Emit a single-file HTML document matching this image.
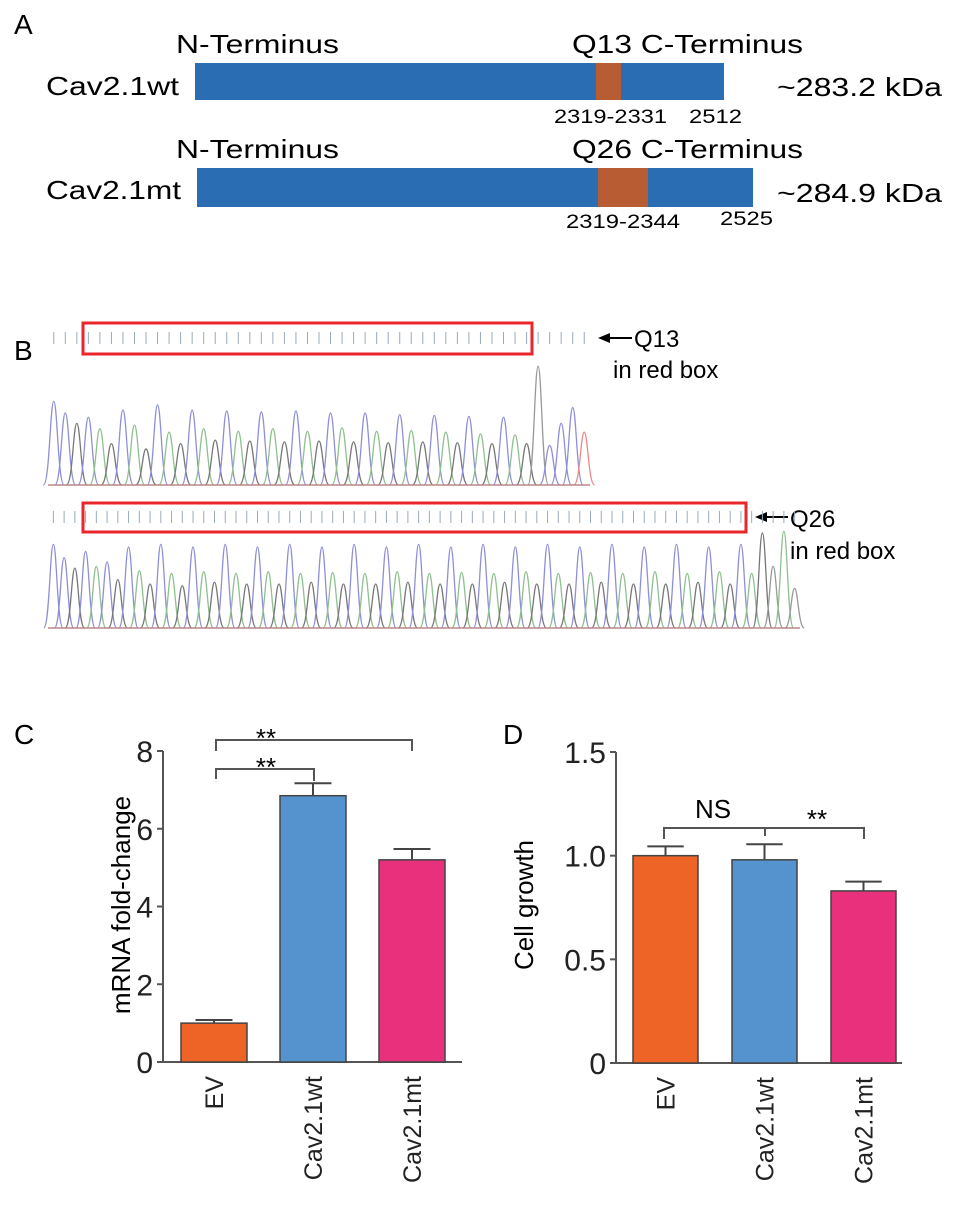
<!DOCTYPE html>
<html><head><meta charset="utf-8"><style>
body{margin:0;background:#fff}
svg{display:block;font-family:"Liberation Sans",Arial,sans-serif}
</style></head><body>
<svg id="fig" width="969" height="1224" viewBox="0 0 969 1224">
<!-- Panel A -->
<g font-size="26">
<text x="14" y="34" font-size="28">A</text>
<text x="176" y="53" textLength="163" lengthAdjust="spacingAndGlyphs">N-Terminus</text>
<text x="572" y="53" textLength="231" lengthAdjust="spacingAndGlyphs">Q13 C-Terminus</text>
<text x="46" y="95" textLength="133" lengthAdjust="spacingAndGlyphs">Cav2.1wt</text>
<rect x="195" y="63" width="529" height="37" fill="#2a6db3"/>
<rect x="596" y="63" width="25" height="37" fill="#b85c33"/>
<text x="777" y="96" textLength="165" lengthAdjust="spacingAndGlyphs">~283.2 kDa</text>
<text x="554" y="123" font-size="19" textLength="113" lengthAdjust="spacingAndGlyphs">2319-2331</text>
<text x="689" y="123" font-size="19" textLength="53" lengthAdjust="spacingAndGlyphs">2512</text>
<text x="176" y="158" textLength="163" lengthAdjust="spacingAndGlyphs">N-Terminus</text>
<text x="572" y="158" textLength="231" lengthAdjust="spacingAndGlyphs">Q26 C-Terminus</text>
<text x="46" y="199" textLength="135" lengthAdjust="spacingAndGlyphs">Cav2.1mt</text>
<rect x="197" y="168" width="556" height="39" fill="#2a6db3"/>
<rect x="598" y="168" width="50" height="39" fill="#b85c33"/>
<text x="777" y="202" textLength="165" lengthAdjust="spacingAndGlyphs">~284.9 kDa</text>
<text x="566" y="228" font-size="19" textLength="114" lengthAdjust="spacingAndGlyphs">2319-2344</text>
<text x="720" y="225" font-size="19" textLength="53" lengthAdjust="spacingAndGlyphs">2525</text>
</g>
<!-- Panel B -->
<g id="panelB">
<text x="14" y="360" font-size="28">B</text>
<rect x="83" y="323" width="449" height="31" fill="none" stroke="#e8262b" stroke-width="3"/>
<rect x="83" y="503" width="663" height="29" fill="none" stroke="#e8262b" stroke-width="3"/>
<g><line x1="608" y1="338" x2="632" y2="338" stroke="#000" stroke-width="2"/><polygon points="598,338 610,333 610,343" fill="#000"/></g>
<text x="634" y="347" font-size="24">Q13</text>
<text x="613" y="378" font-size="24">in red box</text>
<g><line x1="765" y1="517" x2="788" y2="517" stroke="#000" stroke-width="2"/><polygon points="755,517 767,512 767,522" fill="#000"/></g>
<text x="790" y="527" font-size="24">Q26</text>
<text x="790" y="559" font-size="24">in red box</text>
</g>
<!-- Panel C -->
<g id="panelC">
<text x="14" y="744" font-size="28">C</text>
<text transform="translate(130,905) rotate(-90)" text-anchor="middle" font-size="26">mRNA fold-change</text>
</g>
<g id="panelD">
<text x="503" y="744" font-size="28">D</text>
<text transform="translate(533,905) rotate(-90)" text-anchor="middle" font-size="26">Cell growth</text>
</g>
</svg>
<script>
const NS='http://www.w3.org/2000/svg';
// chromatogram peak heights (fraction) and base colors
const seq1Heights=[0.95,0.82,0.70,0.77,0.64,0.47,0.85,0.68,0.41,0.91,0.60,0.47,0.85,0.64,0.51,0.84,0.61,0.50,0.83,0.64,0.49,0.84,0.61,0.50,0.82,0.65,0.49,0.82,0.61,0.48,0.80,0.62,0.49,0.79,0.60,0.48,0.78,0.58,0.47,0.77,0.57,0.47,1.35,0.45,0.70,0.88,0.60];
const seq1Colors="bbkbgkbgkbgkbgkbgkbgkbgkbgkbgkbgkbgkbgkbgkKbbbr";
const seq2Heights=[0.95,0.80,0.68,0.87,0.70,0.75,0.55,0.92,0.65,0.50,0.95,0.62,0.48,0.92,0.64,0.52,0.95,0.62,0.50,0.92,0.64,0.50,0.95,0.62,0.52,0.92,0.63,0.50,0.95,0.62,0.50,0.92,0.64,0.52,0.95,0.62,0.50,0.92,0.63,0.50,0.95,0.62,0.52,0.92,0.64,0.50,0.95,0.62,0.50,0.92,0.63,0.52,0.95,0.62,0.50,0.92,0.64,0.50,0.95,0.62,0.52,0.92,0.64,0.50,0.95,0.62,1.08,0.70,1.10,0.45];
const seq2Colors="bbkbgbkbgkbgkbgkbgkbgkbgkbgkbgkbgkbgkbgkbgkbgkbgkbgkbgkbgkbgkbgkbgkKgKr";
const colMap={b:'#8f8fd8',g:'#8fc08f',k:'#777',K:'#999',r:'#e88'};
function chromo(heights,colors,x0,x1,base,amp,tickY,name){
  const g=document.createElementNS(NS,'g');
  
  
  const step=(x1-x0)/heights.length;
  heights.forEach((h,i)=>{
    const cx=x0+step*(i+0.5);
    const p=document.createElementNS(NS,'path');
    const top=base-h*amp, w=step*0.9;
    p.setAttribute('d',`M${cx-w} ${base} C${cx-w*0.4} ${base},${cx-w*0.35} ${top},${cx} ${top} C${cx+w*0.35} ${top},${cx+w*0.4} ${base},${cx+w} ${base}`);
    p.setAttribute('fill','none');p.setAttribute('stroke',colMap[colors[i]]||'#888');p.setAttribute('stroke-width','1.3');
    
    
    g.appendChild(p);
  });
  const bl=document.createElementNS(NS,'line');
  bl.setAttribute('x1',x0);bl.setAttribute('x2',x1);bl.setAttribute('y1',base);bl.setAttribute('y2',base);bl.setAttribute('stroke','#b88');bl.setAttribute('stroke-width','1.5');
  g.appendChild(bl);
  for(let i=0;i<heights.length;i++){
    const t=document.createElementNS(NS,'line');const cx=x0+step*(i+0.5);
    t.setAttribute('x1',cx);t.setAttribute('x2',cx);t.setAttribute('y1',tickY);t.setAttribute('y2',tickY+12);
    t.setAttribute('stroke','#9ab');t.setAttribute('stroke-width','1');g.appendChild(t);
  }
  document.getElementById('panelB').appendChild(g);
}
chromo(seq1Heights,seq1Colors,48,590,485,88,332,'chromatogram-q13');
chromo(seq2Heights,seq2Colors,48,800,628,88,511,'chromatogram-q26');

// bar charts
const categories=['EV','Cav2.1wt','Cav2.1mt'];
const barColors=['#ee6427','#5593cf','#e8307c'];
const mrnaValues=[1.0,6.85,5.2];
const mrnaErrors=[0.08,0.32,0.28];
const mrnaTicks=['0','2','4','6','8'];
const mrnaTickVals=[0,2,4,6,8];
const growthValues=[1.0,0.98,0.83];
const growthErrors=[0.045,0.075,0.045];
const growthTicks=['0','0.5','1.0','1.5'];
const growthTickVals=[0,0.5,1.0,1.5];

function el(tag,attrs,parent){const e=document.createElementNS(NS,tag);for(const k in attrs)e.setAttribute(k,attrs[k]);parent.appendChild(e);return e;}
function barChart(opt){
  const g=document.getElementById(opt.id);
  const y=v=>opt.y0-(v/opt.max)*(opt.y0-opt.yTop);
  const ax=el('line',{x1:opt.ax,x2:opt.ax,y1:y(opt.max),y2:opt.y0,stroke:'#555','stroke-width':2},g);
  
  
  const xa=el('line',{x1:opt.ax-4,x2:opt.axEnd,y1:opt.y0,y2:opt.y0,stroke:'#555','stroke-width':2},g);
  
  
  opt.tickVals.forEach((v,i)=>{
    el('line',{x1:opt.ax-6,x2:opt.ax,y1:y(v),y2:y(v),stroke:'#555','stroke-width':2},g);
    const t=el('text',{x:opt.ax-10,y:y(v)+11,'text-anchor':'end','font-size':30,fill:'#222'},g);
    t.textContent=opt.ticks[i];
    
    
  });
  categories.forEach((c,i)=>{
    const x=opt.bx[i];
    const r=el('rect',{x:x,y:y(opt.vals[i]),width:opt.bw,height:opt.y0-y(opt.vals[i]),fill:barColors[i],stroke:'#444','stroke-width':1.5},g);
    
    
    const cx=x+opt.bw/2, top=y(opt.vals[i]+opt.errs[i]);
    const eb=el('path',{d:`M${cx} ${y(opt.vals[i])} V${top} M${cx-opt.bw*0.28} ${top} H${cx+opt.bw*0.28}`,stroke:'#444','stroke-width':2,fill:'none'},g);
    
    
    const t=el('text',{transform:`translate(${cx+9},${opt.y0+14}) rotate(-90)`,'text-anchor':'end','font-size':25,fill:'#222'},g);
    t.textContent=c;
    
    
  });
}
barChart({id:'panelC',ax:163,axEnd:462,y0:1062,yTop:751,max:8,vals:mrnaValues,errs:mrnaErrors,ticks:mrnaTicks,tickVals:mrnaTickVals,bx:[181,280,379],bw:66});
barChart({id:'panelD',ax:616,axEnd:902,y0:1063,yTop:752,max:1.5,vals:growthValues,errs:growthErrors,ticks:growthTicks,tickVals:growthTickVals,bx:[633,732,831],bw:65});

// significance brackets
const gC=document.getElementById('panelC'), gD=document.getElementById('panelD');
let b=el('path',{d:'M216 751 V740 H412 V751',stroke:'#555','stroke-width':2,fill:'none'},gC);


b=el('path',{d:'M216 779 V769 H314 V781',stroke:'#555','stroke-width':2,fill:'none'},gC);


let s=el('text',{x:266,y:747,'text-anchor':'middle','font-size':26},gC);s.textContent='**';


s=el('text',{x:266,y:776,'text-anchor':'middle','font-size':26},gC);s.textContent='**';


b=el('path',{d:'M664 839 V828 H864 V839 M765 828 V836',stroke:'#555','stroke-width':2,fill:'none'},gD);


s=el('text',{x:713,y:818,'text-anchor':'middle','font-size':26},gD);s.textContent='NS';


s=el('text',{x:817,y:828,'text-anchor':'middle','font-size':26},gD);s.textContent='**';


</script>
</body></html>
